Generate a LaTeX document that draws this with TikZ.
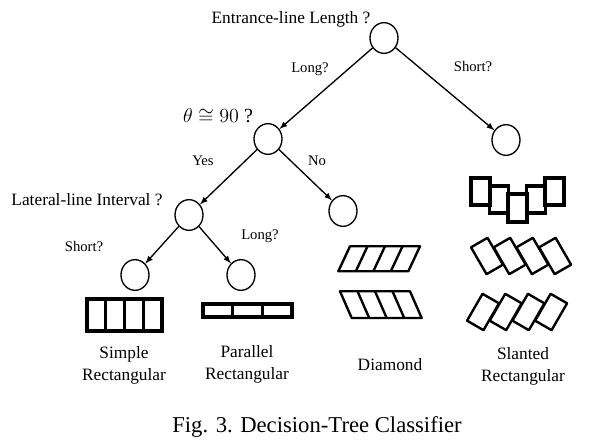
\RequirePackage{fix-cm}
\documentclass[tikz,border=0pt]{standalone}
\usepackage{fontspec}
\setmainfont{Liberation Serif}
\usetikzlibrary{shapes.geometric,arrows}
\tikzstyle{every node}=[font=\fontsize{13}{16.5}\selectfont]
\tikzstyle{decision}=[draw,ellipse,line width=1pt,inner sep=0pt,minimum width=21pt,minimum height=23pt]
\tikzstyle{arrow} = [line width=1pt,->,>=latex]
\tikzstyle{small} = [font=\fontsize{11}{13}\selectfont]
\tikzstyle{slotthick} = [line width=2.3pt,line join=miter]
\tikzstyle{slotthin} = [line width=1.8pt,line join=round]

\begin{document}
\begin{tikzpicture}[x=0.75pt,y=-0.75pt]
\useasboundingbox (0,0) rectangle (596,445);

% decision nodes
\node[decision] (root) at (384,38) {};
\node[decision] (theta) at (268,139) {};
\node[decision] (shortend) at (506,140) {};
\node[decision] (lateral) at (189,215) {};
\node[decision] (diamond) at (343,211) {};
\node[decision] (simple) at (135,275) {};
\node[decision] (parallel) at (241,275) {};

% questions
\node (qentrance) at (291,19) {Entrance-line Length ?};
\node[font=\fontsize{15}{18}\selectfont] (qtheta) at (218,116) {$\theta\cong 90$ ?};
\node (qlateral) at (87,200) {Lateral-line Interval ?};

% edges
\draw[arrow] (root) -- (theta);
\draw[arrow] (root) -- (shortend);
\draw[arrow] (theta) -- (lateral);
\draw[arrow] (theta) -- (diamond);
\draw[arrow] (lateral) -- (simple);
\draw[arrow] (lateral) -- (parallel);

% edge labels
\node[small] (llong) at (310,69) {Long?};
\node[small] (lshort) at (473,67) {Short?};
\node[small] (lyes) at (203,161) {Yes};
\node[small] (lno) at (317,161) {No};
\node[small] (lshort2) at (84,247) {Short?};
\node[small] (llong2) at (260,236) {Long?};

% simple rectangular
\draw[slotthick] (87,299) rectangle (162,331);
\foreach \x in {1,2,3}
  \draw[slotthick] (87+18.75*\x,299) -- (87+18.75*\x,331);

% parallel rectangular
\draw[slotthick] (203,304) rectangle (292,317);
\foreach \x in {1,2}
  \draw[slotthick] (203+29.67*\x,304) -- (203+29.67*\x,317);

% diamond
\draw[slotthin] (350,246.3) -- (420,246.3) -- (408.3,271.3) -- (338.3,271.3) -- cycle;
\foreach \x in {1,2,3}
  \draw[slotthin] (350+17.5*\x,246.3) -- (338.3+17.5*\x,271.3);
\draw[slotthin] (340,291.3) -- (410,291.3) -- (421.7,318) -- (351.7,318) -- cycle;
\foreach \x in {1,2,3}
  \draw[slotthin] (340+17.5*\x,291.3) -- (351.7+17.5*\x,318);

% slanted rectangular
\foreach \x in {0,...,3}
  \draw[slotthin,fill=white,shift={(487+22.7*\x,256)},rotate=30] (-9.5,-15.5) rectangle (9.5,15.5);
\foreach \x in {0,...,3}
  \draw[slotthin,fill=white,shift={(483+22.7*\x,312)},rotate=-30] (-9.5,-15.5) rectangle (9.5,15.5);

% short entrance
\draw[slotthick] (471,178) rectangle (490,205);
\draw[slotthick] (489.5,186) rectangle (508.5,213);
\draw[slotthick] (508,194) rectangle (527,222);
\draw[slotthick] (526.5,186) rectangle (545.5,213);
\draw[slotthick] (545,178) rectangle (564,205);

% names
\node[align=center] (nsimple) at (124,365) {Simple\\Rectangular};
\node[align=center] (nparallel) at (247,364) {Parallel\\Rectangular};
\node (ndiamond) at (390,365) {Diamond};
\node[align=center] (nslanted) at (523,366) {Slanted\\Rectangular};

% caption
\node[font=\fontsize{17}{20}\selectfont] (caption) at (317,427) {Fig. 3. Decision-Tree Classifier};

\end{tikzpicture}
\end{document}
